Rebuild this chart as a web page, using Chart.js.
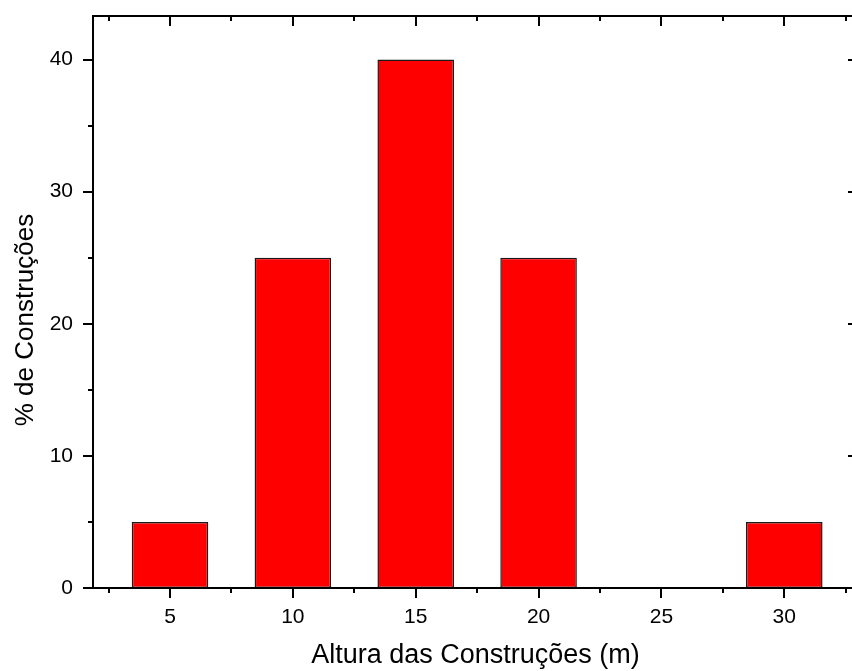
<!DOCTYPE html>
<html>
<head>
<meta charset="utf-8">
<script src="https://cdn.jsdelivr.net/npm/chart.js@4"></script>
<style>
html,body{margin:0;padding:0;overflow:hidden;background:#fff;width:852px;height:671px;}
#wrap{position:absolute;left:0;top:0;width:872px;height:690px;}
canvas{display:block;}
</style>
</head>
<body>
<div id="wrap"><canvas id="c" width="872" height="690"></canvas></div>
<script>
// Data
const heights = [5, 10, 15, 20, 25, 30];            // Altura das Construções (m)
const percents = [5, 25, 40, 25, 0, 5];             // % de Construções
const xTickValues = [5, 10, 15, 20, 25, 30];
const yTickValues = [0, 10, 20, 30, 40];
const xTitle = 'Altura das Construções (m)';
const yTitle = '% de Construções';

const FONT = '"Liberation Sans", Arial, sans-serif';

const framePlugin = {
  id: 'frame',
  afterDraw(chart) {
    const ctx = chart.ctx;
    const a = chart.chartArea;
    const xs = chart.scales.x, ys = chart.scales.y;
    ctx.save();
    ctx.strokeStyle = '#000';
    ctx.lineWidth = 2;
    ctx.beginPath();
    ctx.rect(a.left, a.top, a.right - a.left, a.bottom - a.top);
    ctx.stroke();
    ctx.beginPath();
    for (let v = 2.5; v <= xs.max; v += 2.5) {
      if (v < xs.min) continue;
      const px = Math.round(xs.getPixelForValue(v));
      const major = (v % 5 === 0);
      const len = major ? 10 : 5;
      ctx.moveTo(px, a.bottom); ctx.lineTo(px, a.bottom + len);
      ctx.moveTo(px, a.top); ctx.lineTo(px, a.top + len);
    }
    for (let v = 0; v <= ys.max; v += 5) {
      const py = Math.round(ys.getPixelForValue(v));
      const major = (v % 10 === 0);
      const len = major ? 10 : 5;
      ctx.moveTo(a.left, py); ctx.lineTo(a.left - len, py);
      ctx.moveTo(a.right, py); ctx.lineTo(a.right - len, py);
    }
    ctx.stroke();
    ctx.fillStyle = '#000';
    ctx.textAlign = 'center';
    ctx.textBaseline = 'alphabetic';
    ctx.font = '27px ' + FONT;
    ctx.fillText(xTitle, (a.left + a.right) / 2, 663);
    ctx.font = '26px ' + FONT;
    ctx.translate(33, 320);
    ctx.rotate(-Math.PI / 2);
    ctx.fillText(yTitle, 0, 0);
    ctx.restore();
  }
};

new Chart(document.getElementById('c'), {
  type: 'bar',
  data: {
    datasets: [{
      data: heights.map((h, i) => ({x: h, y: percents[i]})),
      backgroundColor: '#FF0000',
      borderColor: '#1a1a1a',
      borderWidth: (c) => (c.raw && c.raw.y === 0 ? 0 : 1.5),
      borderSkipped: false,
      barPercentage: 1,
      categoryPercentage: 0.623
    }]
  },
  options: {
    responsive: false,
    devicePixelRatio: 1,
    animation: false,
    layout: {padding: {left: 0, top: 16, right: 14, bottom: 0}},
    plugins: {legend: {display: false}, tooltip: {enabled: false}},
    scales: {
      x: {
        type: 'linear',
        offset: false,
        min: 1.866,
        max: 33.0,
        grid: {display: false, drawTicks: false, offset: false},
        border: {display: false},
        afterBuildTicks: (s) => { s.ticks = xTickValues.map(v => ({value: v})); },
        ticks: {font: {family: FONT, size: 21}, color: '#000', padding: 17, maxRotation: 0, autoSkip: false},
        afterFit: (s) => { s.height = 102; s.paddingLeft = 0; s.paddingRight = 0; }
      },
      y: {
        type: 'linear',
        min: 0,
        max: 43.3,
        grid: {display: false, drawTicks: false},
        border: {display: false},
        afterBuildTicks: (s) => { s.ticks = yTickValues.map(v => ({value: v})); },
        ticks: {font: {family: FONT, size: 21}, color: '#000', padding: 20},
        afterFit: (s) => { s.width = 93; s.paddingTop = 0; s.paddingBottom = 0; }
      }
    }
  },
  plugins: [framePlugin]
});
</script>
</body>
</html>
